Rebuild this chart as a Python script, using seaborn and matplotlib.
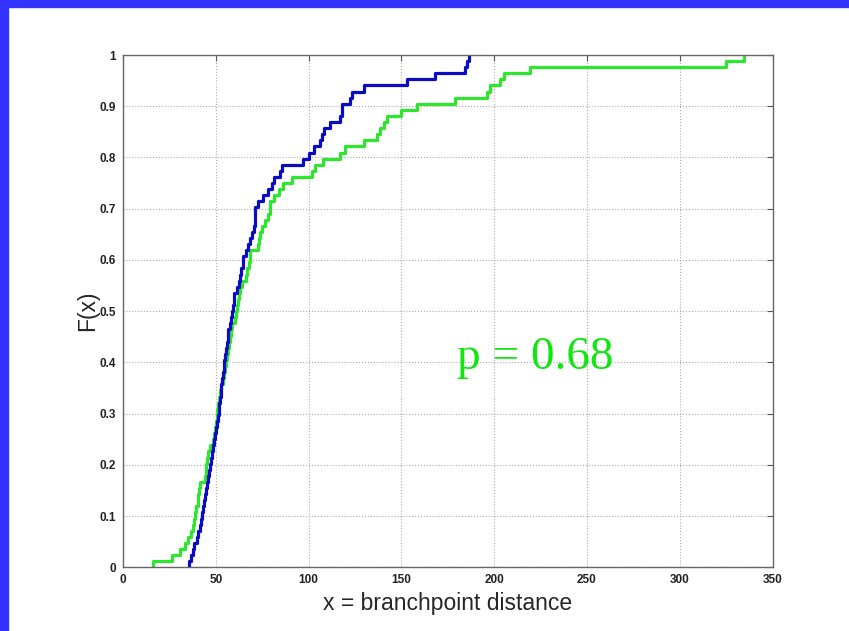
import pandas as pd
import numpy as np
import seaborn as sns
import matplotlib.pyplot as plt
from matplotlib.patches import Rectangle

# branchpoint distances
blue_dist = [35.5, 36.5, 37.5, 38.5, 39.8, 40.6, 41.5, 42.0, 42.6, 43.2,
             43.8, 44.2, 44.7, 45.1, 45.6, 46.2, 46.8, 47.3, 47.9, 48.5,
             49.0, 49.6, 50.1, 50.6, 51.2, 51.6, 52.0, 52.3, 52.7, 53.0,
             53.2, 53.8, 54.2, 54.5, 55.0, 55.5, 56.0, 56.5, 56.8, 57.5,
             58.2, 58.8, 59.3, 59.8, 60.0, 61.5, 62.5, 63.2, 63.8, 64.5,
             64.9, 66.5, 67.5, 68.5, 69.4, 70.5, 71.0, 71.2, 71.2, 73.0,
             75.5, 78.0, 80.5, 81.5, 84.5, 85.6, 97.2, 100.0, 103.0, 106.3,
             107.2, 108.5, 111.7, 117.0, 118.0, 118.0, 122.4, 123.4, 129.6, 153.0,
             168.0, 184.5, 185.5, 186.3]

green_dist = [16.3, 26.2, 30.7, 33.5, 35.2, 36.5, 37.5, 38.2, 39.0, 39.6,
              40.2, 40.6, 41.0, 41.5, 44.2, 44.5, 44.8, 45.1, 46.0, 46.9,
              48.7, 49.3, 49.6, 49.9, 50.4, 50.8, 51.3, 51.8, 52.3, 53.0,
              53.7, 54.3, 55.0, 55.5, 56.1, 56.6, 57.2, 57.7, 58.2, 58.6,
              60.4, 61.0, 61.6, 62.2, 62.5, 63.3, 64.0, 66.5, 67.0, 67.8,
              68.5, 68.5, 73.0, 73.5, 73.9, 74.8, 76.5, 78.0, 79.3, 79.3,
              81.5, 83.8, 86.0, 91.0, 101.8, 103.5, 108.0, 117.0, 119.7, 129.6,
              136.8, 138.6, 140.4, 142.2, 150.0, 158.4, 179.0, 196.2, 198.0, 203.3,
              205.1, 219.5, 324.7, 334.6]

x_ticks = [0, 50, 100, 150, 200, 250, 300, 350]
y_ticks = [0, 0.1, 0.2, 0.3, 0.4, 0.5, 0.6, 0.7, 0.8, 0.9, 1]
y_ticklabels = ["0", "0.1", "0.2", "0.3", "0.4", "0.5", "0.6", "0.7", "0.8", "0.9", "1"]

df = pd.DataFrame({
    "dist": blue_dist + green_dist,
    "group": ["blue"] * len(blue_dist) + ["green"] * len(green_dist),
})

sns.set_style("white")
plt.rcParams['font.family'] = ['Liberation Sans', 'DejaVu Sans']

fig = plt.figure(figsize=(8.49, 6.31), dpi=100)
fig.patches.append(Rectangle((0, 0), 8 / 849, 1, transform=fig.transFigure,
                             color="#3333ff", zorder=0))
fig.patches.append(Rectangle((0, 1 - 7 / 631), 1, 7 / 631, transform=fig.transFigure,
                             color="#3333ff", zorder=0))
ax = fig.add_axes([123 / 849, 1 - 567.3 / 631, 649.5 / 849, 512.3 / 631])

sns.ecdfplot(data=df, x="dist", hue="group",
             palette={"blue": "#0b0bc4", "green": "#2ee62e"},
             linewidth=2.3, legend=False, ax=ax)

ax.set_xlim(0, 350)
ax.set_ylim(0, 1)
ax.set_xticks(x_ticks)
ax.set_yticks(y_ticks)
ax.set_yticklabels(y_ticklabels)
ax.grid(True, linestyle=":", color="#aaaaaa", linewidth=0.8)
ax.tick_params(direction="in", length=4, width=0.8, color="#555555",
               top=True, right=True, labelsize=8.5, pad=5)
for lab in ax.get_xticklabels() + ax.get_yticklabels():
    lab.set_fontweight("bold")
    lab.set_color("#222222")
for sp in ax.spines.values():
    sp.set_color("#666666")
    sp.set_linewidth(1.0)

ax.set_xlabel("x = branchpoint distance", fontsize=16.5, labelpad=4)
ax.set_ylabel("F(x)", fontsize=16.5, labelpad=0.5)

ax.text(222, 0.41, "p = 0.68", color="#11e611", fontsize=34,
        family=["Liberation Serif", "DejaVu Serif"], ha="center", va="center")

plt.savefig("out.png", dpi=100)
